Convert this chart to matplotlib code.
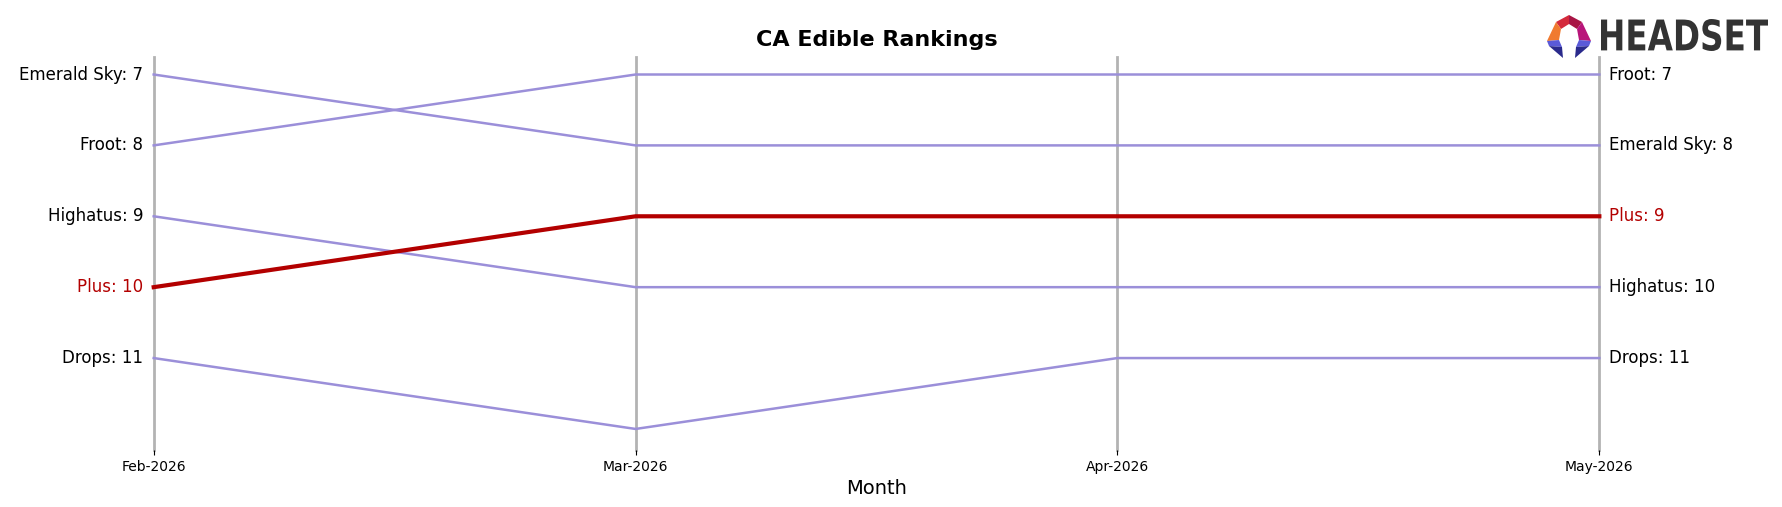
import matplotlib
matplotlib.use("Agg")
import matplotlib.pyplot as plt
from matplotlib.textpath import TextPath
from matplotlib.patches import PathPatch, Polygon
from matplotlib.font_manager import FontProperties
from matplotlib.transforms import Affine2D

###############################################################################
# data
###############################################################################
months = ["Feb-2026", "Mar-2026", "Apr-2026", "May-2026"]
brands = ["Emerald Sky", "Froot", "Highatus", "Plus", "Drops"]
emerald_sky = [7, 8, 8, 8]
froot = [8, 7, 7, 7]
highatus = [9, 10, 10, 10]
plus = [10, 9, 9, 9]
drops = [11, 12, 11, 11]
highlight = "Plus"

ranks = {
    "Emerald Sky": emerald_sky,
    "Froot": froot,
    "Highatus": highatus,
    "Plus": plus,
    "Drops": drops,
}

PURPLE = "#9b8fd9"
RED = "#b30000"
GREY = "#b3b3b3"

###############################################################################
# plot
###############################################################################
fig = plt.figure(figsize=(17.83, 5.07), dpi=100)
ax = fig.add_axes([0.0862, 0.112, 0.8108, 0.776])

xs = list(range(len(months)))
for x in xs:
    ax.axvline(x, color=GREY, lw=2, zorder=1, clip_on=False)

for name in brands:
    vals = ranks[name]
    if name == highlight:
        ax.plot(xs, vals, color=RED, lw=3, zorder=3, clip_on=False)
    else:
        ax.plot(xs, vals, color=PURPLE, lw=1.8, zorder=2, clip_on=False)

# labels at both ends
for name in brands:
    vals = ranks[name]
    c = RED if name == highlight else "black"
    ax.text(-0.022, vals[0], f"{name}: {vals[0]}", ha="right", va="center",
            fontsize=12, color=c)
    ax.text(len(months) - 1 + 0.02, vals[-1], f"{name}: {vals[-1]}", ha="left",
            va="center", fontsize=12, color=c)

ax.set_xlim(0, len(months) - 1)
ax.set_ylim(12.3, 6.75)
ax.set_xticks(xs)
ax.set_xticklabels(months, fontsize=10)
ax.set_yticks([])
ax.set_xlabel("Month", fontsize=14, labelpad=4)
for s in ax.spines.values():
    s.set_visible(False)
ax.set_title("CA Edible Rankings", fontsize=16, fontweight="bold", pad=8)

###############################################################################
# logo (pixel coords, y from top)
###############################################################################
H = 507
def px(pts):
    return [(x, H - y) for x, y in pts]

icon = [
    ([(1556, 22), (1569, 15), (1569, 24), (1561, 29)], "#d42a3c"),
    ([(1569, 15), (1582, 22), (1577, 29), (1569, 24)], "#a81545"),
    ([(1556, 22), (1561, 29), (1559, 40), (1547, 41)], "#f07a30"),
    ([(1582, 22), (1591, 41), (1579, 40), (1577, 29)], "#b8157a"),
    ([(1547, 41), (1559, 40), (1562, 47), (1549, 46)], "#5a5ad8"),
    ([(1591, 41), (1589, 46), (1576, 47), (1579, 40)], "#5a5ad8"),
    ([(1549, 46), (1562, 47), (1563, 58)], "#2a2a8c"),
    ([(1589, 46), (1575, 58), (1576, 47)], "#2a2a8c"),
]
for pts, col in icon:
    fig.patches.append(Polygon(px(pts), closed=True, facecolor=col, edgecolor="none",
                               transform=None, figure=fig))

tp = TextPath((0, 0), "HEADSET", size=100,
              prop=FontProperties(family="DejaVu Sans", weight="bold"))
bb = tp.get_extents()
x0, x1, ytop, ybot = 1601, 1768, 19, 51
tr = (Affine2D().translate(-bb.x0, -bb.y0)
      .scale((x1 - x0) / bb.width, (ybot - ytop) / bb.height)
      .translate(x0, H - ybot))
fig.patches.append(PathPatch(tr.transform_path(tp), facecolor="#333333",
                             edgecolor="none", transform=None, figure=fig))

fig.savefig("out.png", dpi=100)
